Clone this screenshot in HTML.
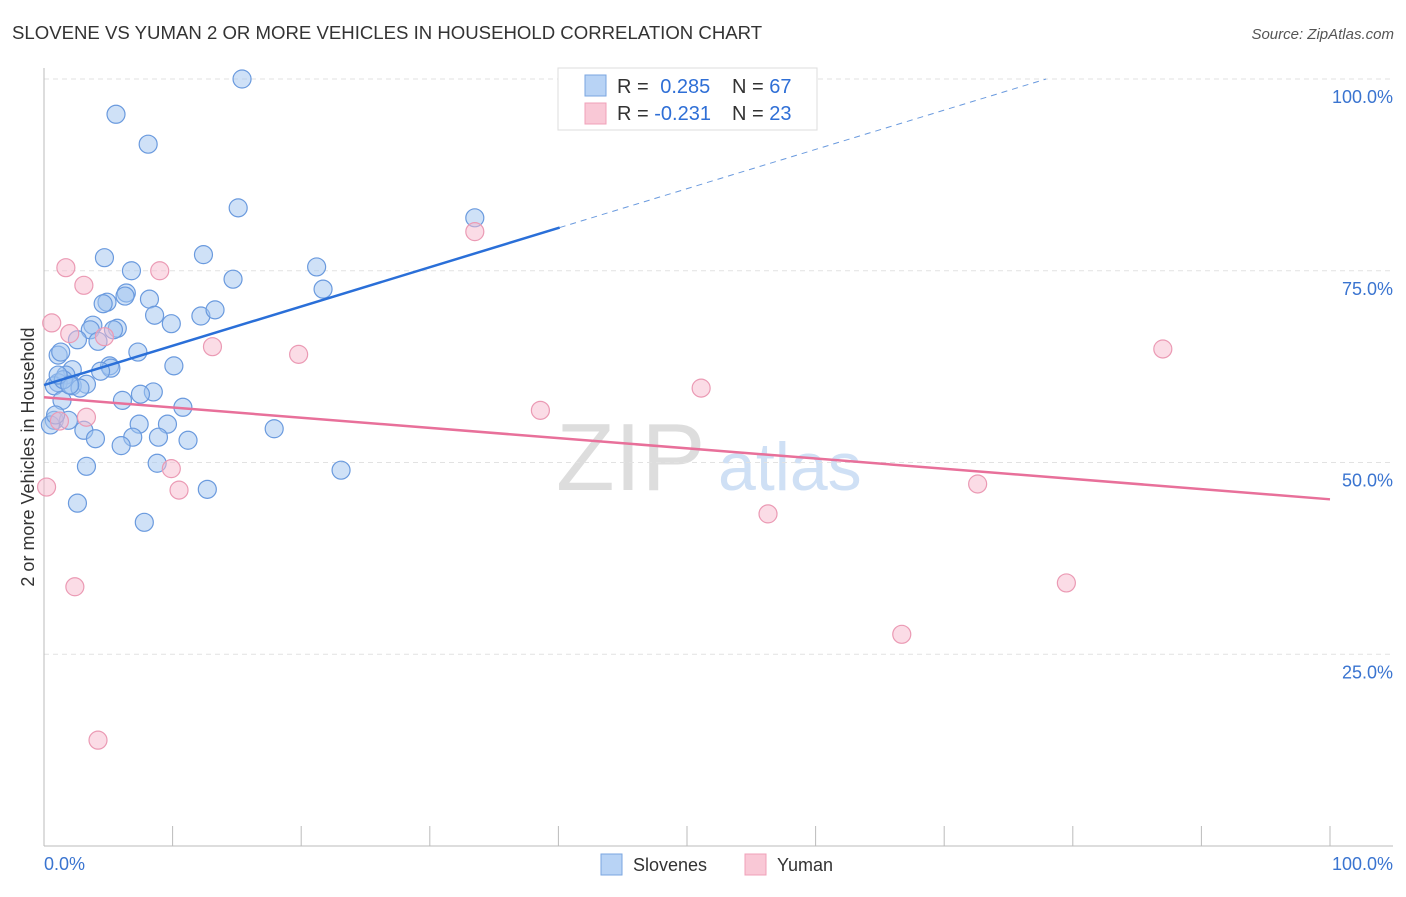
<!DOCTYPE html>
<html><head><meta charset="utf-8"><style>
body{margin:0;background:#fff;font-family:"Liberation Sans",sans-serif}
svg text{font-family:"Liberation Sans",sans-serif}
</style></head><body>
<svg id="c" width="1406" height="892" xmlns="http://www.w3.org/2000/svg">
<text x="12" y="39" font-size="18.6" fill="#333">SLOVENE VS YUMAN 2 OR MORE VEHICLES IN HOUSEHOLD CORRELATION CHART</text>
<text x="1394" y="39" font-size="15" fill="#555" text-anchor="end" font-style="italic">Source: ZipAtlas.com</text>
<text x="556" y="490" font-size="96" fill="#ddd" font-family="Liberation Serif">ZIP</text>
<text x="718" y="490" font-size="68" fill="#cfe0f5">atlas</text>
<text transform="translate(34,457) rotate(-90)" font-size="18" fill="#333" text-anchor="middle">2 or more Vehicles in Household</text>
<g id="grid"></g><g id="pts"></g><g id="lines"></g>
<g>
<rect x="558" y="68" width="259" height="62" fill="#fff" stroke="#ddd"/>
<rect x="585" y="75" width="21" height="21" fill="#b8d3f5" stroke="#7aa6e0"/>
<rect x="585" y="103" width="21" height="21" fill="#f9c8d6" stroke="#f0a0b8"/>
<text x="617" y="93" font-size="20" fill="#333">R = <tspan fill="#2f6fd6" dx="6">0.285</tspan></text>
<text x="732" y="93" font-size="20" fill="#333">N = <tspan fill="#2f6fd6">67</tspan></text>
<text x="617" y="120" font-size="20" fill="#333">R = <tspan fill="#2f6fd6">-0.231</tspan></text>
<text x="732" y="120" font-size="20" fill="#333">N = <tspan fill="#2f6fd6">23</tspan></text>
</g>
<g>
<rect x="601" y="854" width="21" height="21" fill="#b8d3f5" stroke="#7aa6e0"/>
<text x="633" y="871" font-size="18" fill="#333">Slovenes</text>
<rect x="745" y="854" width="21" height="21" fill="#f9c8d6" stroke="#f0a0b8"/>
<text x="777" y="871" font-size="18" fill="#333">Yuman</text>
</g>
</svg>
<script>
const yTicks=[100,75,50,25];
const yTickLabels=["100.0%","75.0%","50.0%","25.0%"];
const xTickLabels=["0.0%","100.0%"];
const blueX=[15.4,5.6,8.1,15.1,33.5,4.7,12.4,6.8,21.2,14.7,21.7,6.4,6.3,8.2,4.9,4.6,8.6,12.2,13.3,9.9,3.8,5.7,5.4,3.6,2.6,4.2,7.3,1.1,1.3,5.1,5.2,10.1,4.4,2.2,1.7,1.1,0.8,2.2,3.3,2.8,1.5,6.1,8.5,7.5,1.4,10.8,0.8,1.9,7.4,9.6,3.1,17.9,4.0,6.9,8.9,11.2,6.0,8.8,3.3,23.1,12.7,2.6,7.8,0.5,0.9,1.1,2.0];
const blueY=[100.0,95.4,91.5,83.2,81.9,76.7,77.1,75.0,75.5,73.9,72.6,72.1,71.7,71.3,70.9,70.7,69.2,69.1,69.9,68.1,67.9,67.5,67.3,67.3,66.0,65.8,64.4,64.0,64.4,62.6,62.3,62.6,61.9,62.1,61.4,60.4,60.0,60.0,60.2,59.7,60.8,58.1,59.2,58.9,58.1,57.2,55.5,55.5,55.0,55.0,54.2,54.4,53.1,53.3,53.3,52.9,52.2,49.9,49.5,49.0,46.5,44.7,42.2,54.9,56.2,61.4,60.1];
const pinkX=[1.7,3.1,9.0,0.6,2.0,4.7,13.1,19.8,33.5,87.0,51.1,38.6,3.3,1.2,9.9,10.5,0.2,72.6,56.3,79.5,66.7,2.4,4.2];
const pinkY=[75.4,73.1,75.0,68.2,66.8,66.4,65.1,64.1,80.1,64.8,59.7,56.8,55.9,55.4,49.2,46.4,46.8,47.2,43.3,34.3,27.6,33.8,13.8];
const blueTrend=[60.1,0.512];   // intercept, slope
const pinkTrend=[58.5,-0.133];
const NS="http://www.w3.org/2000/svg";
const X=v=>44+v*12.86, Y=v=>846-v*7.67;
function mk(t,a,p){const e=document.createElementNS(NS,t);for(const k in a)e.setAttribute(k,a[k]);p.appendChild(e);return e;}
const grid=document.getElementById('grid');
yTicks.forEach((t,i)=>{
 const l=mk('line',{x1:44,x2:1393,y1:Y(t),y2:Y(t),stroke:'#e2e2e2','stroke-dasharray':'5,4'},grid);
 
 
 const tx=mk('text',{x:1393,y:Y(t)+24,'font-size':18,fill:'#3a74d0','text-anchor':'end'},grid);
 tx.textContent=yTickLabels[i];
 
 
});
const ax=mk('line',{x1:44,x2:1393,y1:846,y2:846,stroke:'#bbb'},grid);


const ay=mk('line',{x1:44,x2:44,y1:68,y2:846,stroke:'#bbb'},grid);


for(let i=0;i<=10;i++){
 const t=mk('line',{x1:X(i*10),x2:X(i*10),y1:826,y2:846,stroke:'#bbb'},grid);
 
 
}
[[0,'start',44],[100,'end',1393]].forEach((d,i)=>{
 const tx=mk('text',{x:d[2],y:870,'font-size':18,fill:'#3a74d0','text-anchor':d[1]},grid);
 tx.textContent=xTickLabels[i];
 
 
});
const pts=document.getElementById('pts');
blueX.forEach((x,i)=>{
 const c=mk('circle',{cx:X(x),cy:Y(blueY[i]),r:9,fill:'rgba(160,196,240,0.5)',stroke:'#6a9ade','stroke-width':1.2},pts);
 
 
});
pinkX.forEach((x,i)=>{
 const c=mk('circle',{cx:X(x),cy:Y(pinkY[i]),r:9,fill:'rgba(248,185,205,0.5)',stroke:'#eb9ab4','stroke-width':1.2},pts);
 
 
});
const lines=document.getElementById('lines');
const bEnd=40.1, bY=v=>blueTrend[0]+blueTrend[1]*v;
const bl=mk('line',{x1:X(0),y1:Y(bY(0)),x2:X(bEnd),y2:Y(bY(bEnd)),stroke:'#2a6fd8','stroke-width':2.5},lines);


const xd=(100-blueTrend[0])/blueTrend[1];
const bd=mk('line',{x1:X(bEnd),y1:Y(bY(bEnd)),x2:X(xd),y2:Y(100),stroke:'#6a9ade','stroke-width':1,'stroke-dasharray':'6,5'},lines);


const pl=mk('line',{x1:X(0),y1:Y(pinkTrend[0]),x2:X(100),y2:Y(pinkTrend[0]+pinkTrend[1]*100),stroke:'#e8709a','stroke-width':2.5},lines);


</script>
</body></html>
